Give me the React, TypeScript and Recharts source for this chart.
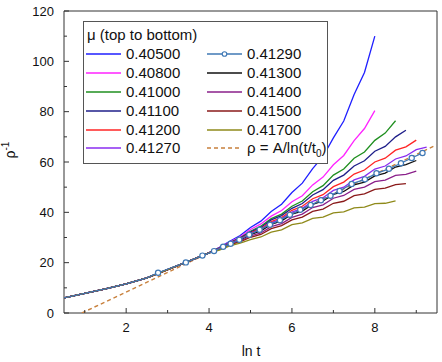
import { LineChart, Line, XAxis, YAxis, ReferenceArea } from 'recharts';

// ln t grid shared by the plain curves
const lnT = [0.5, 1, 1.5, 2, 2.5, 3, 3.5, 4, 4.25, 4.5, 4.75, 5, 5.25, 5.5, 5.75, 6, 6.25, 6.5, 6.75, 7, 7.25, 7.5, 7.75, 8, 8.25, 8.5, 8.75, 9, 9.25];
const early = [6, 7.8, 9.6, 11.6, 14, 17.2, 20.5, 23.9];

const mu40500 = [...early, 26.1, 28.5, 30.8, 34.0, 36.5, 40.3, 43.2, 47.9, 51.6, 57.4, 62.2, 69.6, 76.3, 86.8, 95.6, 110];
const mu40800 = [...early, 26.0, 28.2, 30.3, 33.2, 35.4, 38.5, 40.7, 44.2, 46.6, 50.9, 54.0, 58.9, 62.6, 68.5, 73.3, 80.4];
const mu41000 = [...early, 25.9, 28.0, 29.9, 32.5, 34.5, 37.5, 39.3, 42.4, 44.5, 48.2, 50.6, 54.8, 57.2, 61.5, 64.0, 68.6, 71.5, 76.4];
const mu41100 = [...early, 25.8, 27.9, 29.7, 32.2, 34.0, 37.0, 38.7, 41.6, 43.5, 46.9, 49.0, 52.7, 54.8, 58.4, 60.5, 64.3, 66.2, 70.0, 72.6];
const mu41200 = [...early, 25.7, 27.8, 29.4, 31.8, 33.5, 36.3, 37.9, 40.8, 42.4, 45.4, 47.0, 50.2, 52.0, 55.2, 56.8, 60.0, 61.5, 64.7, 66.0, 68.7];
const mu41270 = [...early, 25.6, 27.7, 29.2, 31.5, 33.1, 35.8, 37.4, 40.1, 41.6, 44.4, 45.8, 48.7, 50.0, 52.9, 54.3, 57.2, 58.4, 61.2, 62.4, 64.9, 65.9];
const mu41300 = [...early, 25.5, 27.5, 28.9, 31.1, 32.6, 35.2, 36.6, 39.3, 40.5, 43.2, 44.5, 47.1, 48.3, 50.9, 52.0, 54.5, 55.6, 58.0, 59.0, 60.6];
const mu41400 = [...early, 25.4, 27.4, 28.6, 30.6, 31.8, 34.3, 35.5, 38.0, 39.3, 41.9, 43.0, 45.6, 46.7, 49.1, 50.0, 52.2, 52.8, 54.7, 55.1, 56.4];
const mu41500 = [...early, 25.3, 27.2, 28.3, 30.1, 31.2, 33.5, 34.7, 37.0, 38.1, 40.4, 41.3, 43.6, 44.4, 46.6, 47.3, 49.1, 49.6, 51.0, 51.4];
const mu41700 = [...early, 25.0, 26.7, 27.8, 29.2, 30.2, 32.1, 33.0, 35.1, 35.8, 37.6, 38.1, 39.8, 40.2, 41.8, 42.1, 43.5, 43.6, 44.6];

// near-critical curve, sampled where its open circles sit
const critT = [0.5, 1, 1.5, 2, 2.5, 2.77, 3.44, 3.84, 4.12, 4.34, 4.52, 4.73, 4.97, 5.22, 5.47, 5.71, 5.95, 6.2, 6.45, 6.7, 6.93, 7.15, 7.44, 7.76, 8.04, 8.34, 8.63, 8.89, 9.15];
const mu41290 = [6, 7.8, 9.6, 11.6, 14, 16, 20.1, 22.8, 24.6, 26.3, 27.5, 29.1, 31.1, 33.1, 35.1, 36.9, 39, 41, 42.9, 44.8, 46.6, 48.5, 51.3, 53.1, 55.5, 57.3, 59.5, 61.6, 63.6];

// fit rho = A / ln(t/t0)
const fitT = [0.93, 9.48];
const fitInv = [0, 66.7];

const xTicks = [1, 2, 3, 4, 5, 6, 7, 8, 9];
const yTicks = [0, 10, 20, 30, 40, 50, 60, 70, 80, 90, 100, 110, 120];

const series = [
  { name: '0.40500', values: mu40500, color: '#1f1fff' },
  { name: '0.40800', values: mu40800, color: '#ff22ff' },
  { name: '0.41000', values: mu41000, color: '#1f8f1f' },
  { name: '0.41100', values: mu41100, color: '#1f1f8a' },
  { name: '0.41200', values: mu41200, color: '#ff2424' },
  { name: '0.41270', values: mu41270, color: '#8a2cf0' },
  { name: '0.41300', values: mu41300, color: '#111111' },
  { name: '0.41400', values: mu41400, color: '#8a1f8a' },
  { name: '0.41500', values: mu41500, color: '#8a1a1a' },
  { name: '0.41700', values: mu41700, color: '#8f8a1a' },
];
const critColor = '#3f78b5';
const fitColor = '#c8803c';

const toRows = (xs: number[], ys: number[]) => ys.map((y, i) => ({ x: xs[i], y }));

const font = '"Liberation Sans", Arial, sans-serif';
const TICK_MARGIN = 10;

const XTick = (props: any) => {
  const { x, y, payload } = props;
  const axisY = y - TICK_MARGIN;
  const major = payload.value % 2 === 0;
  return (
    <g>
      <line x1={x} x2={x} y1={axisY} y2={axisY - (major ? 5 : 3)} stroke="#333" />
      {major && (
        <text x={x} y={y} dy="0.71em" textAnchor="middle" fontSize={13} fill="#111" fontFamily={font}>
          {payload.value}
        </text>
      )}
    </g>
  );
};

const YTick = (props: any) => {
  const { x, y, payload } = props;
  const axisX = x + TICK_MARGIN;
  const major = payload.value % 20 === 0;
  return (
    <g>
      <line x1={axisX} x2={axisX + (major ? 5 : 3)} y1={y} y2={y} stroke="#333" />
      {major && (
        <text x={x} y={y} dy="0.355em" textAnchor="end" fontSize={13} fill="#111" fontFamily={font}>
          {payload.value}
        </text>
      )}
    </g>
  );
};

const critDot = (props: any) => {
  const { cx, cy, payload, index } = props;
  if (payload.x < 2.7) return <g key={index} />;
  return <circle key={index} cx={cx} cy={cy} r={2.6} fill="#fff" stroke={critColor} strokeWidth={1.2} />;
};

const LegendRow = ({ label, color, dashed, marker }: { label: any; color: string; dashed?: boolean; marker?: boolean }) => (
  <div style={{ display: 'flex', alignItems: 'center', height: 18.8, whiteSpace: 'nowrap' }}>
    <svg width={36} height={10} style={{ marginRight: 4, flex: 'none' }}>
      <line x1={0} x2={35} y1={5} y2={5} stroke={color} strokeWidth={1.4} strokeDasharray={dashed ? '4 3' : undefined} />
      {marker && <circle cx={17.5} cy={5} r={2.3} fill="#fff" stroke={color} strokeWidth={1.1} />}
    </svg>
    <span>{label}</span>
  </div>
);

const App = () => {
  const left = series.slice(0, 6);
  const right = series.slice(6);
  return (
    <div style={{ position: 'absolute', left: 0, top: 0, width: 442, height: 362, background: '#fff', fontFamily: font }}>
      <LineChart width={442} height={362} margin={{ top: 11, right: 5, bottom: 0, left: 0 }}>
        <XAxis
          type="number"
          dataKey="x"
          domain={[0.5, 9.5]}
          ticks={xTicks}
          allowDataOverflow
          height={49}
          axisLine={false}
          tickLine={false}
          tickSize={0}
          tickMargin={TICK_MARGIN}
          tick={<XTick />}
          interval={0}
        />
        <YAxis
          type="number"
          domain={[0, 120]}
          ticks={yTicks}
          allowDataOverflow
          width={64}
          axisLine={false}
          tickLine={false}
          tickSize={0}
          tickMargin={TICK_MARGIN}
          tick={<YTick />}
          interval={0}
        />
        <Line
          data={toRows(fitT, fitInv)}
          dataKey="y"
          type="linear"
          stroke={fitColor}
          strokeWidth={1.4}
          strokeDasharray="4 3"
          dot={false}
          isAnimationActive={false}
        />
        {series.map((s) => (
          <Line
            key={s.name}
            data={toRows(lnT, s.values)}
            dataKey="y"
            type="linear"
            stroke={s.color}
            strokeWidth={1.3}
            dot={false}
            isAnimationActive={false}
          />
        ))}
        <Line
          data={toRows(critT, mu41290)}
          dataKey="y"
          type="linear"
          stroke={critColor}
          strokeWidth={1.3}
          dot={critDot}
          isAnimationActive={false}
        />
        <ReferenceArea x1={0.5} x2={9.5} y1={0} y2={120} fill="none" stroke="#333" strokeWidth={1} />
      </LineChart>

      {/* legend */}
      <div
        style={{
          position: 'absolute',
          left: 83,
          top: 21,
          width: 245,
          height: 143,
          border: '1px solid #555',
          background: '#fff',
          fontSize: 15,
          color: '#111',
          lineHeight: '18px',
          boxSizing: 'border-box',
          padding: '4px 0 0 2px',
        }}
      >
        <div style={{ height: 19, paddingLeft: 1, whiteSpace: 'nowrap' }}>μ (top to bottom)</div>
        <div style={{ display: 'flex' }}>
          <div style={{ width: 121, flex: 'none' }}>
            {left.map((s) => (
              <LegendRow key={s.name} label={s.name} color={s.color} />
            ))}
          </div>
          <div style={{ flex: 'none' }}>
            <LegendRow label="0.41290" color={critColor} marker />
            {right.map((s) => (
              <LegendRow key={s.name} label={s.name} color={s.color} />
            ))}
            <LegendRow
              label={<span>ρ = A/ln(t/t<sub style={{ fontSize: 10, lineHeight: 0 }}>0</sub>)</span>}
              color={fitColor}
              dashed
            />
          </div>
        </div>
      </div>

      {/* axis titles */}
      <svg width={442} height={362} style={{ position: 'absolute', left: 0, top: 0, pointerEvents: 'none' }}>
        <text transform="translate(15,150) rotate(-90)" textAnchor="middle" fontSize={14} fontFamily={font} fill="#111">
          ρ<tspan dy={-6} fontSize={10}>-1</tspan>
        </text>
        <text x={251} y={356} textAnchor="middle" fontSize={14} fontFamily={font} fill="#111">
          ln t
        </text>
      </svg>
    </div>
  );
};

export default App;
